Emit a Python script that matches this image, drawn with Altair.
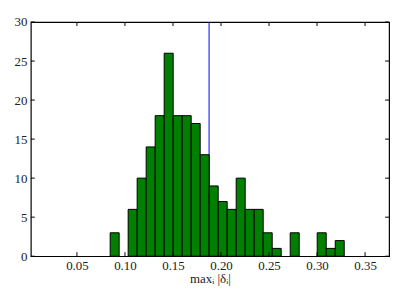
import altair as alt
import pandas as pd

# histogram data
bin_min = 0.0846
bin_max = 0.3283
counts = [3, 0, 6, 10, 14, 18, 26, 18, 18, 17, 13, 9, 7, 6, 10, 6, 6, 3, 1, 0, 3, 0, 0, 3, 1, 2]
vline_x = [0.1876]
x_ticks = [0.05, 0.10, 0.15, 0.20, 0.25, 0.30, 0.35]
y_ticks = [0, 5, 10, 15, 20, 25, 30]
x_domain = [0.002, 0.375]
y_domain = [0, 30]

n = len(counts)
w = (bin_max - bin_min) / n
bars = pd.DataFrame({
    "x0": [bin_min + i * w for i in range(n)],
    "x1": [bin_min + (i + 1) * w for i in range(n)],
    "count": counts,
})
bars = bars[bars["count"] > 0]

W, H = 361, 236
FONT = "Liberation Serif"

xs = alt.Scale(domain=x_domain, nice=False, zero=False)
ys = alt.Scale(domain=y_domain, nice=False, zero=True)

xaxis = alt.Axis(values=x_ticks, format=".2f", title="maxᵢ |δᵢ|", grid=False,
                 domain=False, ticks=False, labelPadding=3, labelFontSize=13,
                 labelFont=FONT, labelColor="#222", titleFont=FONT, titleFontSize=13,
                 titleFontWeight="normal", titleColor="#222", titlePadding=1)
yaxis = alt.Axis(values=y_ticks, format="d", title=None, grid=False, domain=False,
                 ticks=False, labelPadding=4, labelFontSize=13, labelFont=FONT,
                 labelColor="#222")

line = alt.Chart(pd.DataFrame({"x": vline_x})).mark_rule(color="#0000ff", strokeWidth=1).encode(
    x=alt.X("x:Q", scale=xs, axis=xaxis)
)

hist = alt.Chart(bars).mark_rect(color="#008000", stroke="black", strokeWidth=1).encode(
    x=alt.X("x0:Q", scale=xs, axis=xaxis),
    x2="x1:Q",
    y=alt.Y("count:Q", scale=ys, axis=yaxis),
    y2=alt.datum(0),
)

xt = pd.DataFrame({"v": x_ticks})
yt = pd.DataFrame({"v": y_ticks})
tick_bottom = alt.Chart(xt).mark_rule(color="black").encode(
    x=alt.X("v:Q", scale=xs, axis=xaxis), y=alt.value(H), y2=alt.value(H - 4))
tick_top = alt.Chart(xt).mark_rule(color="black").encode(
    x=alt.X("v:Q", scale=xs, axis=xaxis), y=alt.value(0), y2=alt.value(4))
tick_left = alt.Chart(yt).mark_rule(color="black").encode(
    y=alt.Y("v:Q", scale=ys, axis=yaxis), x=alt.value(0), x2=alt.value(4))
tick_right = alt.Chart(yt).mark_rule(color="black").encode(
    y=alt.Y("v:Q", scale=ys, axis=yaxis), x=alt.value(W), x2=alt.value(W - 4))

chart = alt.layer(line, hist, tick_bottom, tick_top, tick_left, tick_right).properties(
    width=W, height=H,
    background="white",
    autosize=alt.AutoSizeParams(type="none"),
    padding={"left": 23, "top": 13, "right": 10, "bottom": 40},
).configure_view(stroke="black", strokeWidth=1.2)

chart.save("out.html", embed_options={"renderer": "svg", "actions": False})
